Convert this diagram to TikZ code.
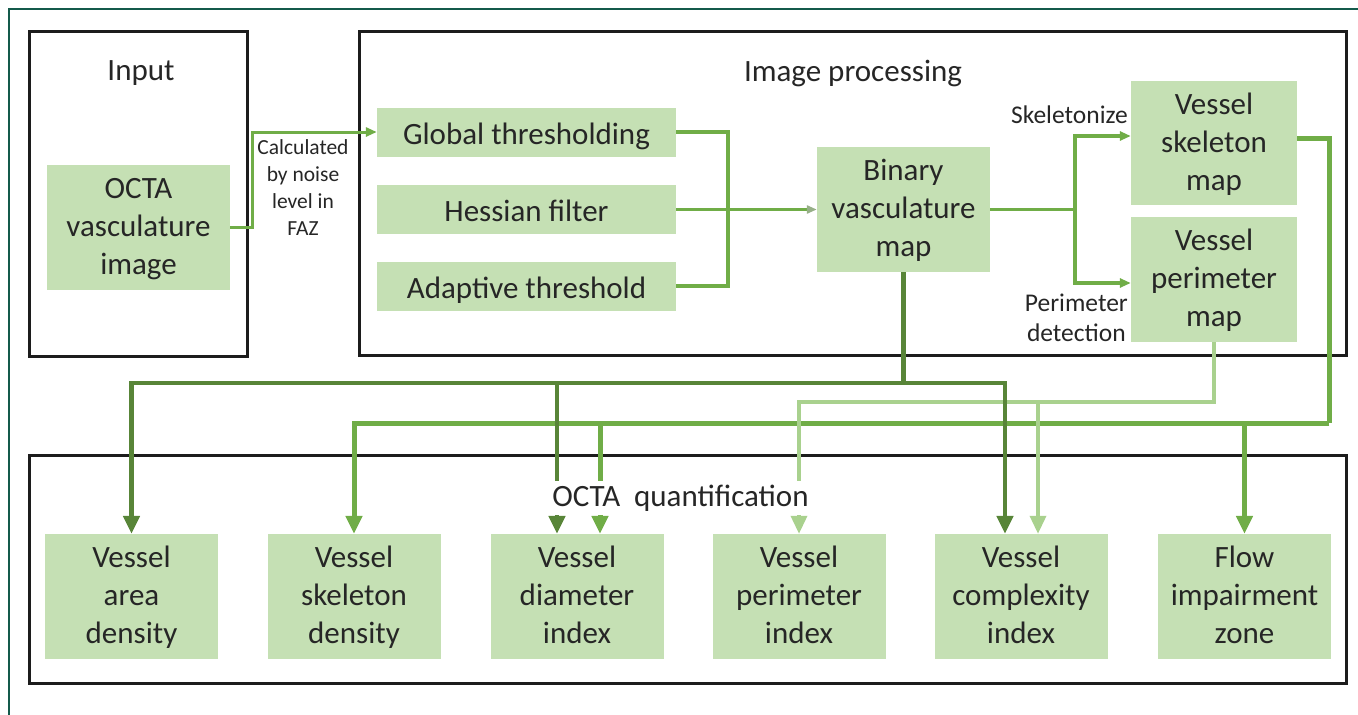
\documentclass[tikz,border=0pt]{standalone}
\usepackage{fontspec}
\setmainfont{Carlito}
\usetikzlibrary{arrows.meta,calc}

\definecolor{frameteal}{RGB}{20,90,75}
\definecolor{boxfill}{RGB}{197,224,180}
\definecolor{flowmid}{RGB}{112,173,71}
\definecolor{flowdark}{RGB}{88,133,56}
\definecolor{flowlight}{RGB}{169,209,142}
\definecolor{headgray}{RGB}{150,175,135}
\definecolor{txt}{RGB}{38,38,38}
\definecolor{edge}{RGB}{28,28,28}

% box text sits a little below the optical centre of its box
\newcommand{\boxtopstrut}{\rule{0pt}{35.5pt}}
\newcommand{\stacktop}{\rule{0pt}{30pt}}

\tikzset{
  box/.style={fill=boxfill, inner sep=0pt, align=center, text=txt,
    font={\fontsize{31}{38}\selectfont}, execute at end node=\strut},
  wide/.style={box, minimum width=299pt, minimum height=49pt,
    execute at begin node=\boxtopstrut},
  tall/.style={box, minimum width=173pt, minimum height=125pt},
  mapbox/.style={box, minimum width=166pt, minimum height=125pt},
  title/.style={inner sep=0pt, align=center, text=txt,
    font={\fontsize{31}{38}\selectfont}},
  note/.style={inner sep=0pt, align=center, text=txt,
    font={\fontsize{25.5}{30.5}\selectfont}},
  smallnote/.style={inner sep=0pt, align=center, text=txt,
    font={\fontsize{21.5}{27}\selectfont}},
  frm/.style={draw=edge, line width=3pt},
  inln/.style={draw=flowmid, line width=3pt},
  brln/.style={draw=flowmid, line width=3.5pt},
  skln/.style={draw=flowmid, line width=5pt},
  dkln/.style={draw=flowdark, line width=4.5pt},
  ltln/.style={draw=flowlight, line width=3.5pt},
  bigtip/.style={-{Triangle[length=18pt,width=16pt]}},
  smalltip/.style={-{Triangle[length=11pt,width=9pt]}},
}

\begin{document}
\begin{tikzpicture}[x=1pt,y=-1pt]
\useasboundingbox (0,0) rectangle (1358,715);

% outer frame
\draw[frameteal, line width=2.5pt] (9,715) -- (9,9) -- (1358,9);

% section frames
\draw[frm] (29,31) rectangle (247,356);
\draw[frm] (359,31) rectangle (1346,355);
\draw[frm] (29,455) rectangle (1346,683);

% section titles
\node[title] (ttlin) at (141,73) {Input};
\node[title] (ttlproc) at (853,73) {Image processing};

% input stage
\node[tall, minimum width=183pt] (octa) at (138.5,227.5) {\stacktop OCTA\\vasculature\\image};
\node[smallnote] (calc) at (303,187.5) {Calculated\\by noise\\level in\\FAZ};

% processing stage
\node[wide] (glob) at (526.5,132) {Global thresholding};
\node[wide] (hess) at (526.5,209.5) {Hessian filter};
\node[wide] (adapt) at (526.5,286) {Adaptive threshold};
\node[tall] (bin) at (903.5,209.5) {\stacktop Binary\\vasculature\\map};
\node[mapbox, minimum height=124pt] (skel) at (1214,143) {\stacktop Vessel\\skeleton\\map};
\node[mapbox] (perim) at (1214,279.5) {\stacktop Vessel\\perimeter\\map};
\node[note, anchor=east] (sklab) at (1128,115) {Skeletonize};
\node[note, anchor=east] (pdlab) at (1128,318) {Perimeter\\detection};

% quantification stage
\node[tall] (area) at (131.5,596.5) {\stacktop Vessel\\area\\density};
\node[tall] (skd)  at (354,596.5) {\stacktop Vessel\\skeleton\\density};
\node[tall] (diam) at (577,596.5) {\stacktop Vessel\\diameter\\index};
\node[tall] (pidx) at (799,596.5) {\stacktop Vessel\\perimeter\\index};
\node[tall] (cplx) at (1021,596.5) {\stacktop Vessel\\complexity\\index};
\node[tall] (flow) at (1244.5,596.5) {\stacktop Flow\\impairment\\zone};

% entry points on the metric boxes
\path (diam.north) ++(-20,0) coordinate (diamA) ++(43,0) coordinate (diamB);
\path (cplx.north) ++(-16,0) coordinate (cplxA) ++(33,0) coordinate (cplxB);

% junctions
\coordinate (merge) at (728,209.5);
\coordinate (fork) at (1075,209.5);
\coordinate (skbus) at (1329,423);
\coordinate (pmbus) at (1214,402);
\coordinate (dkbus) at (903.5,383);

% input to thresholding
\draw[inln, smalltip] (octa.east) -- ++(22,0) |- (glob.west);

% thresholding bracket into the binary map
\draw[brln] (glob.east) -| (merge) |- (adapt.east);
\draw[brln, -{Triangle[length=10pt,width=8pt,color=headgray]}] (hess.east) -- (bin.west);

% binary map to skeleton / perimeter maps
\draw[brln] (bin.east) -- (fork);
\draw[brln, smalltip] (fork) |- ([yshift=7pt]skel.west);
\draw[brln, smalltip] (fork) |- ([yshift=-3.5pt]perim.west);

% skeleton map feeds
\draw[skln] ([yshift=5pt]skel.east) -| (skbus);
\draw[skln, bigtip] (skbus) -| (skd.north);
\draw[skln, bigtip] (skbus) -| (diamB);
\draw[skln, bigtip] (skbus) -| (flow.north);

% perimeter map feeds
\draw[ltln, bigtip] (perim.south) -- (pmbus) -| (pidx.north);
\draw[ltln, bigtip] (pmbus) -| (cplxB);

% binary map feeds
\draw[dkln, bigtip] (bin.south) -- (dkbus) -| (area.north);
\draw[dkln, bigtip] (dkbus) -| (diamA);
\draw[dkln, bigtip] (dkbus) -| (cplxA);

% quantification title over the feeds
\node[title, fill=white, inner sep=1pt, minimum height=34pt] (ttlquant) at (680.5,498) {OCTA\ \ quantification};
\end{tikzpicture}
\end{document}
